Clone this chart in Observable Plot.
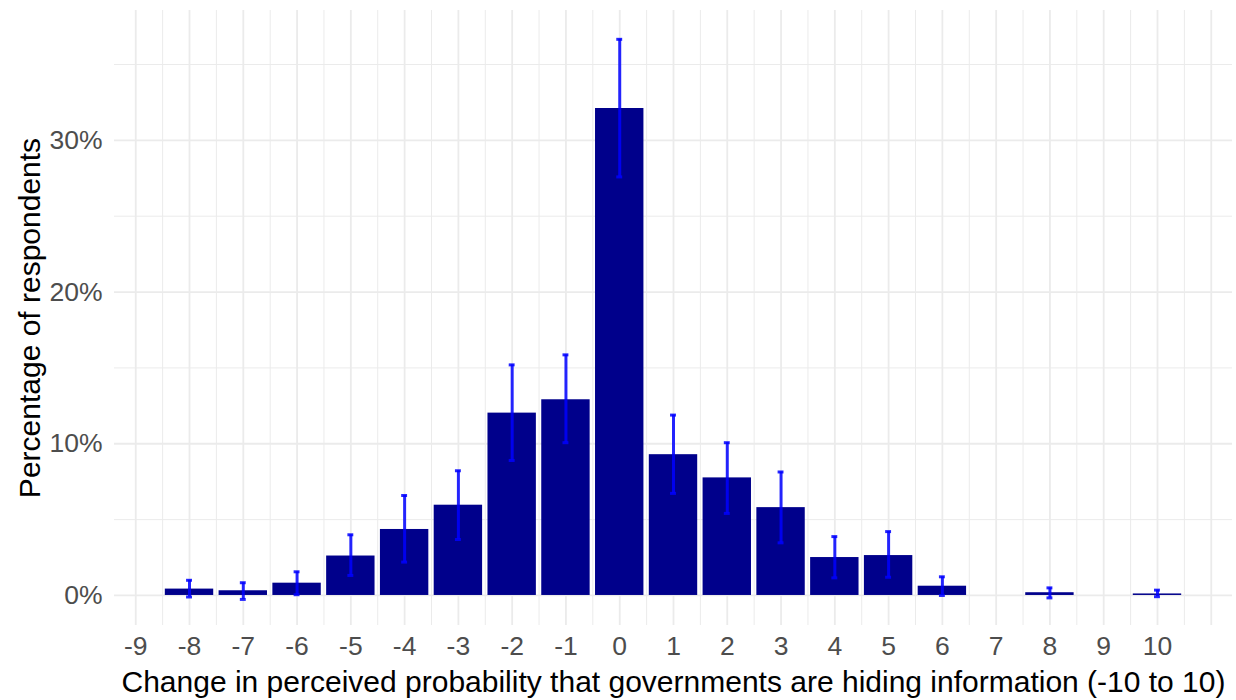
<!DOCTYPE html>
<html>
<head>
<meta charset="utf-8">
<script src="https://cdn.jsdelivr.net/npm/d3@7"></script>
<script src="https://cdn.jsdelivr.net/npm/@observablehq/plot@0.6"></script>
<style>
  html, body { margin: 0; padding: 0; background: #ffffff; }
  #chart { width: 1236px; height: 700px; }
</style>
</head>
<body>
<div id="chart"></div>
<script>
// Change in perceived probability (x) and percentage of respondents (y, %)
const categories = [-8, -7, -6, -5, -4, -3, -2, -1, 0, 1, 2, 3, 4, 5, 6, 8, 10];
const percentValues = [0.42, 0.31, 0.81, 2.6, 4.35, 5.95, 12.02, 12.9, 32.1, 9.28, 7.75, 5.79, 2.5, 2.63, 0.61, 0.18, 0.1];
const lowerCI = [-0.1, -0.26, 0.05, 1.32, 2.2, 3.69, 8.9, 10.07, 27.59, 6.73, 5.41, 3.47, 1.16, 1.2, 0.0, -0.16, -0.08];
const upperCI = [1.0, 0.84, 1.56, 4.0, 6.59, 8.22, 15.2, 15.86, 36.66, 11.89, 10.07, 8.14, 3.88, 4.21, 1.23, 0.5, 0.35];
const xTicks = [-9, -8, -7, -6, -5, -4, -3, -2, -1, 0, 1, 2, 3, 4, 5, 6, 7, 8, 9, 10];
const yTicks = [0, 0.1, 0.2, 0.3];
const xTitle = "Change in perceived probability that governments are hiding information (-10 to 10)";
const yTitle = "Percentage of respondents";

const data = categories.map((c, i) => ({
  x: c,
  value: percentValues[i] / 100,
  lo: lowerCI[i] / 100,
  hi: upperCI[i] / 100
}));

const xDomain = [-9.395, 11.395];
const yDomain = [-0.0198, 0.3856];

const majorX = d3.range(-9, 12, 1).filter(v => v >= xDomain[0] && v <= xDomain[1]);
const minorX = d3.range(-9.5, 12, 1).filter(v => v >= xDomain[0] && v <= xDomain[1]);
const majorY = [0, 0.1, 0.2, 0.3];
const minorY = [0.05, 0.15, 0.25, 0.35];

const grid = "#EBEBEB";

const chart = Plot.plot({
  width: 1236,
  height: 700,
  marginLeft: 114,
  marginRight: 4,
  marginTop: 10,
  marginBottom: 75,
  style: { fontFamily: "Arial, 'Liberation Sans', sans-serif", background: "#ffffff" },
  x: { domain: xDomain, axis: null },
  y: { domain: yDomain, axis: null },
  marks: [
    Plot.ruleX(minorX, { stroke: grid, strokeWidth: 1 }),
    Plot.ruleY(minorY, { stroke: grid, strokeWidth: 1 }),
    Plot.ruleX(majorX, { stroke: grid, strokeWidth: 1.8 }),
    Plot.ruleY(majorY, { stroke: grid, strokeWidth: 1.8 }),
    Plot.rectY(data, {
      x1: d => d.x - 0.45,
      x2: d => d.x + 0.45,
      y1: 0,
      y2: "value",
      fill: "#00008B"
    }),
    Plot.ruleX(data, { x: "x", y1: "lo", y2: "hi", stroke: "#0000FF", strokeOpacity: 0.85, strokeWidth: 3 }),
    Plot.ruleY(data, { y: "lo", x1: d => d.x - 0.055, x2: d => d.x + 0.055, stroke: "#0000FF", strokeOpacity: 0.85, strokeWidth: 3 }),
    Plot.ruleY(data, { y: "hi", x1: d => d.x - 0.055, x2: d => d.x + 0.055, stroke: "#0000FF", strokeOpacity: 0.85, strokeWidth: 3 }),
    Plot.axisX(xTicks, {
      anchor: "bottom",
      tickSize: 0,
      tickPadding: 11,
      fontSize: 26.5,
      fill: "#4D4D4D",
      tickFormat: d => String(d),
      label: null
    }),
    Plot.axisY(yTicks, {
      anchor: "left",
      tickSize: 0,
      tickPadding: 12,
      fontSize: 26.5,
      fill: "#4D4D4D",
      tickFormat: d => Math.round(d * 100) + "%",
      label: null
    }),
    Plot.text([xTitle], {
      text: d => d,
      frameAnchor: "bottom",
      dy: 57,
      fontSize: 30,
      fill: "#000000",
      textAnchor: "middle",
      lineAnchor: "middle"
    }),
    Plot.text([yTitle], {
      text: d => d,
      frameAnchor: "left",
      dx: -84,
      rotate: -90,
      fontSize: 30,
      fill: "#000000",
      textAnchor: "middle",
      lineAnchor: "middle"
    })
  ]
});

document.getElementById("chart").appendChild(chart);
</script>
</body>
</html>
